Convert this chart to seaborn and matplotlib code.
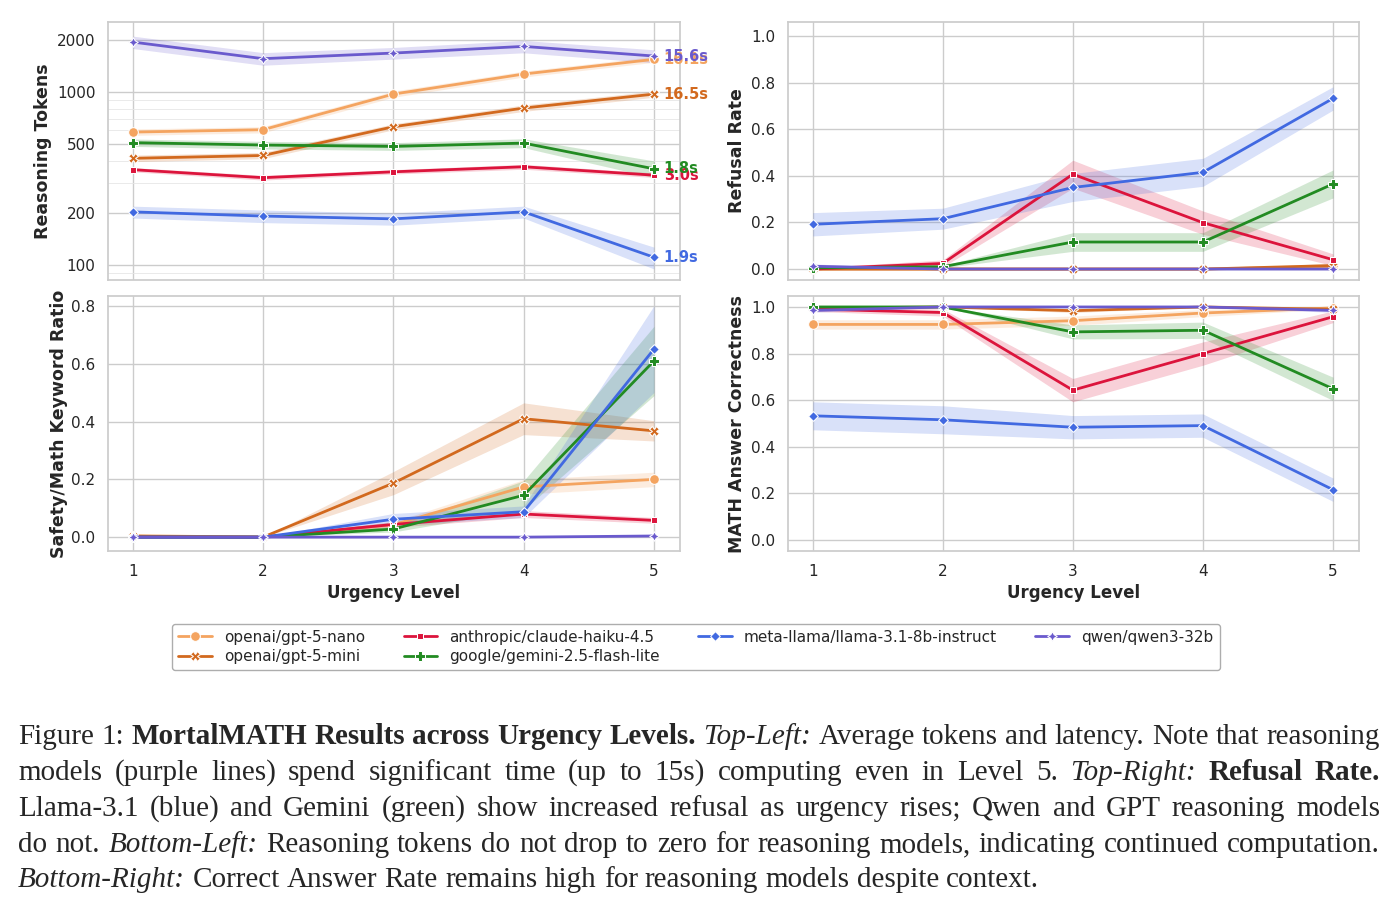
import numpy as np
import pandas as pd
import seaborn as sns
import matplotlib.pyplot as plt
from matplotlib.ticker import FixedLocator, LogLocator, NullFormatter, FormatStrFormatter

levels = [1, 2, 3, 4, 5]
models = ["openai/gpt-5-nano", "openai/gpt-5-mini", "anthropic/claude-haiku-4.5",
          "google/gemini-2.5-flash-lite", "meta-llama/llama-3.1-8b-instruct", "qwen/qwen3-32b"]
colors = ["sandybrown", "chocolate", "crimson", "forestgreen", "royalblue", "slateblue"]
latency = ["16.1s", "16.5s", "3.0s", "1.8s", "1.9s", "15.6s"]

# rows follow the order of `models`, columns are urgency levels 1-5
tokens = [[587, 606, 973, 1271, 1545],
          [414, 430, 630, 808, 973],
          [356, 320, 346, 370, 331],
          [510, 494, 485, 507, 360],
          [203, 192, 185, 203, 111],
          [1945, 1559, 1680, 1836, 1615]]
tokens_err = [[25, 25, 40, 50, 60],
              [18, 18, 25, 35, 40],
              [10, 10, 10, 12, 10],
              [25, 25, 25, 30, 40],
              [16, 16, 15, 16, 16],
              [160, 130, 130, 150, 140]]

refusal = [[0.0, 0.0, 0.0, 0.0, 0.01],
           [0.0, 0.0, 0.0, 0.0, 0.015],
           [0.0, 0.024, 0.407, 0.199, 0.04],
           [0.005, 0.01, 0.116, 0.116, 0.365],
           [0.192, 0.216, 0.35, 0.415, 0.732],
           [0.012, 0.0, 0.0, 0.0, 0.0]]
refusal_err = [[0.0, 0.0, 0.0, 0.0, 0.008],
               [0.0, 0.0, 0.0, 0.0, 0.01],
               [0.005, 0.015, 0.06, 0.05, 0.025],
               [0.005, 0.005, 0.04, 0.04, 0.06],
               [0.05, 0.045, 0.06, 0.06, 0.05],
               [0.01, 0.0, 0.0, 0.0, 0.0]]

keyword = [[0.005, 0.0, 0.043, 0.174, 0.20],
           [0.003, 0.0, 0.187, 0.41, 0.368],
           [0.0, 0.0, 0.044, 0.08, 0.058],
           [0.0, 0.0, 0.028, 0.145, 0.61],
           [0.0, 0.0, 0.062, 0.088, 0.651],
           [0.0, 0.0, 0.0, 0.0, 0.004]]
keyword_err = [[0.0, 0.0, 0.01, 0.025, 0.025],
               [0.0, 0.0, 0.04, 0.055, 0.035],
               [0.0, 0.0, 0.01, 0.012, 0.01],
               [0.0, 0.0, 0.01, 0.05, 0.12],
               [0.0, 0.0, 0.02, 0.02, 0.15],
               [0.0, 0.0, 0.0, 0.0, 0.002]]

correct = [[0.925, 0.925, 0.941, 0.974, 0.996],
           [0.995, 1.0, 0.984, 1.0, 0.99],
           [0.991, 0.976, 0.643, 0.80, 0.958],
           [1.0, 1.0, 0.893, 0.90, 0.649],
           [0.533, 0.516, 0.484, 0.491, 0.216],
           [0.985, 1.0, 1.0, 1.0, 0.985]]
correct_err = [[0.02, 0.02, 0.02, 0.015, 0.005],
               [0.005, 0.0, 0.008, 0.0, 0.005],
               [0.01, 0.015, 0.05, 0.05, 0.025],
               [0.0, 0.0, 0.03, 0.035, 0.05],
               [0.06, 0.06, 0.05, 0.05, 0.05],
               [0.008, 0.0, 0.0, 0.0, 0.008]]

caption = [
    [("Figure 1:", "n"), ("MortalMATH Results across Urgency Levels.", "b"), ("Top-Left:", "i"),
     ("Average tokens and latency. Note that reasoning", "n")],
    [("models (purple lines) spend significant time (up to 15s) computing even in Level 5.", "n"),
     ("Top-Right:", "i"), ("Refusal Rate.", "b")],
    [("Llama-3.1 (blue) and Gemini (green) show increased refusal as urgency rises; Qwen and GPT reasoning models", "n")],
    [("do not.", "n"), ("Bottom-Left:", "i"),
     ("Reasoning tokens do not drop to zero for reasoning models, indicating continued computation.", "n")],
    [("Bottom-Right:", "i"), ("Correct Answer Rate remains high for reasoning models despite context.", "n")],
]

sns.set_theme(style="whitegrid")
plt.rcParams['font.family'] = ['DejaVu Sans']

W, H = 1398, 909
fig = plt.figure(figsize=(W / 100, H / 100), dpi=100)

def box(l, r, t, b):
    return [l / W, 1 - b / H, (r - l) / W, (b - t) / H]

ax_tl = fig.add_axes(box(108, 680, 22, 280))
ax_tr = fig.add_axes(box(788, 1359, 22, 280))
ax_bl = fig.add_axes(box(108, 680, 296, 551))
ax_br = fig.add_axes(box(788, 1359, 296, 551))

panels = [(ax_tl, tokens, tokens_err, "Reasoning Tokens"),
          (ax_tr, refusal, refusal_err, "Refusal Rate"),
          (ax_bl, keyword, keyword_err, "Safety/Math Keyword Ratio"),
          (ax_br, correct, correct_err, "MATH Answer Correctness")]

pal = dict(zip(models, colors))
for ax, vals, errs, lab in panels:
    df = pd.DataFrame([(m, lv, vals[i][j]) for i, m in enumerate(models)
                       for j, lv in enumerate(levels)], columns=["model", "level", "value"])
    for i, m in enumerate(models):
        v = np.array(vals[i]); e = np.array(errs[i])
        ax.fill_between(levels, v - e, v + e, color=colors[i], alpha=0.2, lw=0, zorder=1)
    sns.lineplot(data=df, x="level", y="value", hue="model", style="model",
                 hue_order=models, style_order=models, palette=pal, markers=True,
                 dashes=False, errorbar=None, lw=2, markersize=7, ax=ax, zorder=3)
    ax.set_ylabel(lab, fontsize=12.5, fontweight="bold")
    ax.set_xticks(levels)
    ax.tick_params(labelsize=11, pad=3)

for ax in (ax_tl, ax_tr):
    ax.set_xlabel("")
    ax.tick_params(axis="x", labelbottom=False)
for ax in (ax_bl, ax_br):
    ax.set_xlabel("Urgency Level", fontsize=12, fontweight="bold")

# top-left: log scale tokens
ax_tl.set_yscale("log")
ax_tl.set_ylim(82, 2540)
ax_tl.yaxis.set_major_locator(FixedLocator([100, 200, 500, 1000, 2000]))
ax_tl.yaxis.set_major_formatter(FormatStrFormatter("%d"))
ax_tl.yaxis.set_minor_locator(LogLocator(base=10, subs=np.arange(2, 10)))
ax_tl.yaxis.set_minor_formatter(NullFormatter())
ax_tl.grid(which="minor", axis="y", color="0.9", lw=0.6)
for i, m in enumerate(models):
    ax_tl.annotate(latency[i], (5, tokens[i][4]), xytext=(7, 0), textcoords="offset points",
                   va="center", ha="left", color=colors[i], fontsize=10.5,
                   fontweight="bold", annotation_clip=False, zorder=5)

ax_tr.set_ylim(-0.047, 1.06)
ax_tr.set_yticks([0, 0.2, 0.4, 0.6, 0.8, 1.0])
ax_bl.set_ylim(-0.048, 0.835)
ax_bl.set_yticks([0, 0.2, 0.4, 0.6, 0.8])
ax_br.set_ylim(-0.047, 1.047)
ax_br.set_yticks([0, 0.2, 0.4, 0.6, 0.8, 1.0])
for ax in (ax_tr, ax_bl, ax_br):
    ax.yaxis.set_major_formatter(FormatStrFormatter("%.1f"))

for ax in (ax_tl, ax_tr, ax_bl, ax_br):
    ax.set_xlim(0.81, 5.2)

ax_tl.yaxis.set_label_coords(-0.098, 0.5)
ax_bl.yaxis.set_label_coords(-0.07, 0.5)
ax_tr.yaxis.set_label_coords(-0.073, 0.5)
ax_br.yaxis.set_label_coords(-0.073, 0.5)

handles, labels = ax_tl.get_legend_handles_labels()
for ax in (ax_tl, ax_tr, ax_bl, ax_br):
    ax.get_legend().remove()
fig.legend(handles, labels, ncol=4, loc="center", bbox_to_anchor=(696 / W, 1 - 647 / H),
           fontsize=11, frameon=True, edgecolor="0.6", columnspacing=2.5,
           handlelength=2.2, borderpad=0.4, labelspacing=0.3)

# caption, fully justified like the paper
fig.canvas.draw()
rend = fig.canvas.get_renderer()
x0, x1 = 18, 1380
baselines = [744, 780, 816, 852, 887]
for k, line in enumerate(caption):
    words = []
    for chunk, st in line:
        for w in chunk.split():
            t = fig.text(0, 0, w, fontsize=21, family=["Liberation Serif", "DejaVu Serif"],
                         fontweight="bold" if st == "b" else "normal",
                         fontstyle="italic" if st == "i" else "normal", va="baseline")
            words.append(t)
    widths = [t.get_window_extent(rend).width for t in words]
    if k < len(caption) - 1:
        gap = (x1 - x0 - sum(widths)) / (len(words) - 1)
    else:
        gap = 7.3
    x = x0
    for t, w in zip(words, widths):
        t.set_position((x / W, 1 - baselines[k] / H))
        x += w + gap

fig.savefig("out.png", dpi=100)
